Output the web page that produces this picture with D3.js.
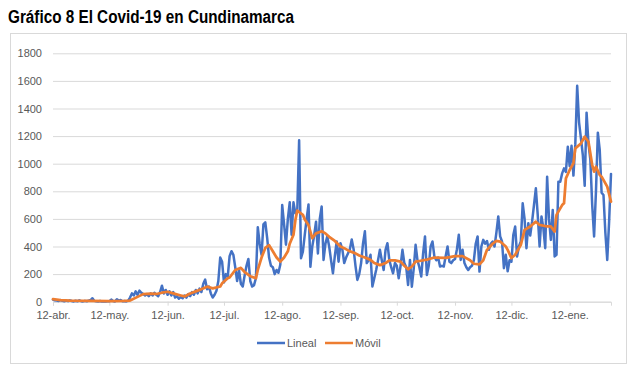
<!DOCTYPE html>
<html><head><meta charset="utf-8">
<script src="https://cdn.jsdelivr.net/npm/d3@7"></script>
<style>body{margin:0;background:#fff}svg{display:block}</style>
</head><body>
<svg id="c" width="639" height="378"></svg>
<script>
const title = "Gráfico 8 El Covid-19 en Cundinamarca";
const startDate = new Date(2020, 3, 12);
const lineal = [
15,10,8,5,12,6,3,8,4,10,
5,2,7,3,10,4,2,6,3,8,
12,25,6,3,2,5,1,3,2,4,
3,15,5,2,18,8,12,3,5,2,
8,30,60,45,75,50,80,65,55,45,
55,40,60,45,65,50,40,70,116,60,
85,50,75,45,70,30,40,22,35,25,
45,30,55,40,70,50,85,60,95,70,
130,160,90,110,60,30,50,80,150,320,
290,140,200,180,330,366,340,250,150,230,
130,110,190,260,310,150,110,120,170,540,
420,340,560,575,460,320,260,250,200,230,
210,270,700,560,413,600,720,485,720,640,
650,1170,315,363,485,600,705,253,400,480,
580,350,600,690,303,420,473,400,300,206,
330,436,290,424,380,280,320,350,380,450,
380,260,158,200,280,420,510,280,300,340,
110,170,230,300,376,300,230,376,424,303,
250,206,280,260,170,260,376,280,250,121,
303,109,240,412,300,250,182,350,473,194,
260,400,436,327,300,320,255,260,255,330,
400,290,280,300,310,380,485,303,376,280,
250,230,250,260,300,420,473,218,400,448,
420,440,376,420,436,400,500,618,473,436,
243,340,220,300,290,484,545,328,400,436,
713,600,388,569,480,580,700,822,629,400,
617,532,388,906,600,448,665,328,340,870,
870,930,966,940,1123,982,1130,914,1140,1564,
1300,1183,1063,840,1370,1150,1030,700,473,800,
1225,1100,790,773,500,303,580,926];
const movilDay = [0,4,9,20,30,38,41,45,48,52,55,58,61,64,68,70,73,77,82,85,89,90,93,94,97,100,102,105,108,109,111,113,115,117,119,121,123,125,126,128,129,130,133,134,136,138,140,143,145,147,150,153,155,158,161,163,166,169,171,174,177,179,182,185,187,189,191,193,195,199,203,209,214,218,222,224,227,229,231,234,236,238,241,242,244,246,249,251,254,257,259,263,265,267,268,271,272,273,275,277,278,281,283,285,287,288,289,291,292,295,297];
const movilValue = [18,12,8,6,5,6,8,35,55,58,56,65,72,60,45,38,60,80,109,97,110,133,170,175,230,245,215,185,170,230,320,390,410,365,320,290,320,365,420,485,590,660,630,595,555,460,495,510,495,470,440,400,388,365,350,335,320,303,280,265,280,300,300,290,260,235,255,290,295,305,320,318,330,330,300,275,270,300,376,420,440,436,400,376,316,340,412,520,545,580,556,545,545,508,629,700,713,894,954,1002,1111,1147,1195,1159,990,942,978,918,906,834,725];
const yTicks = [0,200,400,600,800,1000,1200,1400,1600,1800];
const monthLabels = ["abr.","may.","jun.","jul.","ago.","sep.","oct.","nov.","dic.","ene."];
const seriesNames = ["Lineal","Móvil"];
const colors = ["#4472C4","#ED7D31"];

const dayDate = i => d3.timeDay.offset(startDate, i);
const svg = d3.select("#c");
const L = 53, R = 611, T = 53.3, B = 301.7;
const x = d3.scaleTime().domain([startDate, dayDate(lineal.length - 1)]).range([L, R]);
const y = d3.scaleLinear().domain([0, 1800]).range([B, T]);

svg.append("rect").attr("x", 10.5).attr("y", 33.5).attr("width", 616).attr("height", 330)
  .attr("fill", "#fff").attr("stroke", "#d9d9d9");

svg.append("text").attr("x", 8).attr("y", 23).text(title)
  .attr("font-family", "Liberation Sans, Arial, sans-serif").attr("font-weight", "bold")
  .attr("font-size", 18).attr("fill", "#000")
  .attr("textLength", 286).attr("lengthAdjust", "spacingAndGlyphs");

const yAxis = d3.axisLeft(y).tickValues(yTicks).tickSize(-(R - L)).tickFormat(d3.format("d"));
const gy = svg.append("g").attr("transform", `translate(${L},0)`).call(yAxis);
gy.select(".domain").remove();
gy.selectAll(".tick line").attr("stroke", "#d9d9d9").attr("stroke-width", 1);
gy.selectAll(".tick text").attr("x", -11).attr("fill", "#595959")
  .attr("font-family", "Liberation Sans, Arial, sans-serif").attr("font-size", 11);

const tickDates = monthLabels.map((m, i) => new Date(2020, 3 + i, 12));
const xAxis = d3.axisBottom(x).tickValues(tickDates).tickSize(4)
  .tickFormat((d, i) => "12-" + monthLabels[i]);
const gx = svg.append("g").attr("transform", `translate(0,${B})`).call(xAxis);
gx.select(".domain").attr("stroke", "#d9d9d9");
gx.selectAll(".tick line").attr("stroke", "#d9d9d9");
gx.selectAll(".tick text").attr("y", 10).attr("fill", "#595959")
  .attr("font-family", "Liberation Sans, Arial, sans-serif").attr("font-size", 11);

const line = d3.line().x(d => x(d[0])).y(d => y(d[1]));
svg.append("path").datum(lineal.map((v, i) => [dayDate(i), v]))
  .attr("d", line).attr("fill", "none").attr("stroke", colors[0])
  .attr("stroke-width", 2.5).attr("stroke-linejoin", "round").attr("stroke-linecap", "round");
svg.append("path").datum(movilDay.map((d, i) => [dayDate(d), movilValue[i]]))
  .attr("d", line).attr("fill", "none").attr("stroke", colors[1])
  .attr("stroke-width", 2.75).attr("stroke-linejoin", "round").attr("stroke-linecap", "round");

const leg = [{x: 257, name: seriesNames[0], c: colors[0]}, {x: 325, name: seriesNames[1], c: colors[1]}];
leg.forEach(l => {
  svg.append("line").attr("x1", l.x).attr("x2", l.x + 28).attr("y1", 343).attr("y2", 343)
    .attr("stroke", l.c).attr("stroke-width", 2.5);
  svg.append("text").attr("x", l.x + 30).attr("y", 347).text(l.name)
    .attr("font-family", "Liberation Sans, Arial, sans-serif").attr("font-size", 11).attr("fill", "#595959");
});
</script>
</body></html>
